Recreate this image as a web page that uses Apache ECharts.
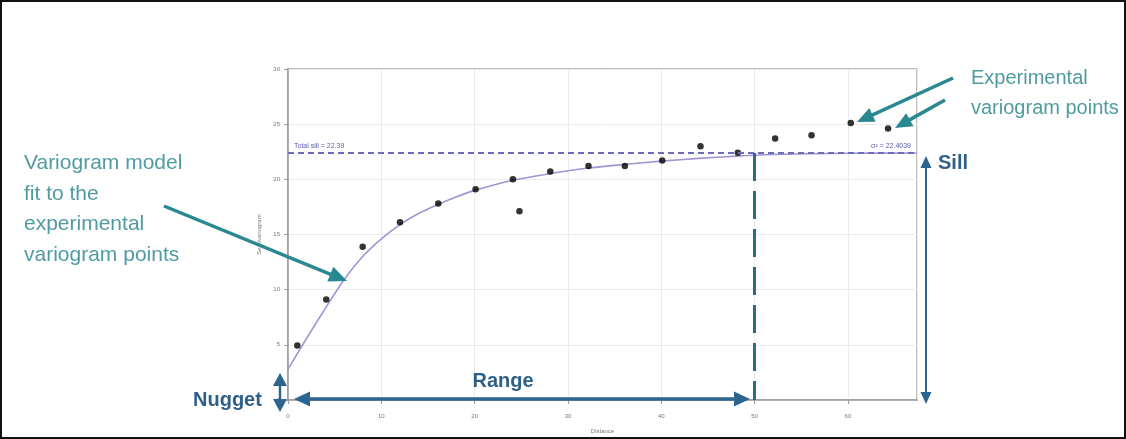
<!DOCTYPE html>
<html>
<head>
<meta charset="utf-8">
<script src="https://cdn.jsdelivr.net/npm/echarts@6/dist/echarts.min.js"></script>
<style>
  html, body { margin: 0; padding: 0; background: #fff; }
  #chart { width: 1126px; height: 439px; }
</style>
</head>
<body>
<div id="chart"></div>
<script>
// Experimental semivariogram: lag distance and semivariance
const lagDistance = [1.0, 4.1, 8.0, 12.0, 16.1, 20.1, 24.1, 24.8, 28.1, 32.2, 36.1, 40.1, 44.2, 48.2, 52.2, 56.1, 60.3, 64.3];
const semivariance = [4.95, 9.1, 13.9, 16.1, 17.8, 19.1, 20.0, 17.1, 20.7, 21.2, 21.2, 21.7, 23.0, 22.4, 23.7, 24.0, 25.1, 24.6];

// Fitted variogram model curve
const modelDistance = [0, 2, 4, 6, 8, 10, 12, 14, 16, 18, 20, 24, 28, 32, 36, 40, 44, 48, 52, 56, 60, 67.4];
const modelGamma = [2.8, 5.6, 8.3, 10.9, 13.0, 14.6, 15.9, 16.9, 17.7, 18.4, 19.0, 19.9, 20.5, 21.0, 21.35, 21.65, 21.9, 22.1, 22.25, 22.32, 22.36, 22.39];

// Model parameters
const totalSill = 22.39;
const sigma2 = 22.4039;
const rangeDistance = 50;

const chart = echarts.init(document.getElementById('chart'), null, { renderer: 'canvas' });

const FONT = 'Liberation Sans, Arial, sans-serif';
const TEAL = '#2a8890';
const TEAL_TEXT = '#4f9ba1';
const NAVY = '#2c6590';

// Straight arrow with a filled head at (x2, y2), optionally at both ends
function arrow(x1, y1, x2, y2, o) {
  const a = Math.atan2(y2 - y1, x2 - x1);
  const cos = Math.cos(a), sin = Math.sin(a);
  const head = (tx, ty, dir) => {
    const bx = tx - dir * o.head * cos, by = ty - dir * o.head * sin;
    const px = -sin * o.headW / 2, py = cos * o.headW / 2;
    return { type: 'polygon', z: 100, shape: { points: [[tx, ty], [bx + px, by + py], [bx - px, by - py]] }, style: { fill: o.color } };
  };
  const s = o.both ? o.head * 0.8 : 0;
  const e = o.head * 0.8;
  const els = [{
    type: 'line', z: 100,
    shape: { x1: x1 + s * cos, y1: y1 + s * sin, x2: x2 - e * cos, y2: y2 - e * sin },
    style: { stroke: o.color, lineWidth: o.width }
  }, head(x2, y2, 1)];
  if (o.both) els.push(head(x1, y1, -1));
  return els;
}

const graphics = [
  // frame around the figure
  { type: 'rect', z: 100, shape: { x: 1, y: 1, width: 1124, height: 437 }, style: { fill: null, stroke: '#111', lineWidth: 2 } },
  // model-fit callout
  { type: 'text', z: 100, x: 24, y: 148, style: { text: 'Variogram model\nfit to the\nexperimental\nvariogram points', font: '21px ' + FONT, fill: TEAL_TEXT, lineHeight: 30.5, verticalAlign: 'top' } },
  ...arrow(164, 206, 347, 281, { color: TEAL, width: 3.5, head: 18, headW: 16 }),
  // experimental points callout
  { type: 'text', z: 100, x: 971, y: 63, style: { text: 'Experimental\nvariogram points', font: '20px ' + FONT, fill: TEAL_TEXT, lineHeight: 30, verticalAlign: 'top' } },
  ...arrow(953, 78, 857, 122, { color: TEAL, width: 3.5, head: 17, headW: 15 }),
  ...arrow(945, 100, 895, 128, { color: TEAL, width: 3.5, head: 17, headW: 15 }),
  // sill
  { type: 'text', z: 100, x: 938, y: 163, style: { text: 'Sill', font: 'bold 20px ' + FONT, fill: '#2d5f88', verticalAlign: 'middle' } },
  ...arrow(926, 404, 926, 156, { color: NAVY, width: 2, head: 12, headW: 11, both: true }),
  // nugget
  { type: 'text', z: 100, x: 193, y: 400, style: { text: 'Nugget', font: 'bold 20px ' + FONT, fill: '#2d5f88', verticalAlign: 'middle' } },
  ...arrow(280, 412, 280, 373, { color: NAVY, width: 2.5, head: 13, headW: 14, both: true }),
  // range
  { type: 'text', z: 100, x: 503, y: 381, style: { text: 'Range', font: 'bold 20px ' + FONT, fill: '#2d5f88', align: 'center', verticalAlign: 'middle' } },
  ...arrow(294, 399, 750, 399, { color: NAVY, width: 3.5, head: 16, headW: 15, both: true })
];

chart.setOption({
  backgroundColor: '#fff',
  animation: false,
  grid: { left: 288, right: 209, top: 69, bottom: 35, show: true, borderColor: '#a8a8a8', borderWidth: 1.5, containLabel: false },
  xAxis: {
    type: 'value', min: 0, max: 67.4, interval: 10,
    name: 'Distance', nameLocation: 'middle', nameGap: 28,
    nameTextStyle: { fontSize: 6, color: '#777', fontFamily: FONT },
    axisLine: { show: true, lineStyle: { color: '#9a9a9a', width: 1.5 } },
    axisTick: { show: true, length: 4, lineStyle: { color: '#9a9a9a' } },
    axisLabel: { fontSize: 6, color: '#777', margin: 13, fontFamily: FONT, showMaxLabel: false },
    splitLine: { show: true, lineStyle: { color: '#ebebeb', width: 1 } }
  },
  yAxis: {
    type: 'value', min: 0, max: 30, interval: 5,
    name: 'Semivariogram', nameLocation: 'middle', nameGap: 20, nameRotate: 90,
    nameTextStyle: { fontSize: 6, color: '#777', fontFamily: FONT },
    axisLine: { show: true, lineStyle: { color: '#9a9a9a', width: 1.5 } },
    axisTick: { show: true, length: 4, lineStyle: { color: '#9a9a9a' } },
    axisLabel: { fontSize: 6, color: '#777', margin: 8, fontFamily: FONT },
    splitLine: { show: true, lineStyle: { color: '#ebebeb', width: 1 } }
  },
  series: [
    {
      name: 'Model', type: 'line', smooth: 0.3, showSymbol: false, z: 3,
      data: modelDistance.map((d, i) => [d, modelGamma[i]]),
      lineStyle: { color: '#9f95d4', width: 1.6 },
      markLine: {
        silent: true, symbol: 'none',
        lineStyle: { color: '#6f6bbb', type: [6, 4], width: 1.8 },
        label: { show: true, position: 'insideStartTop', formatter: 'Total sill = ' + totalSill, fontSize: 7, color: '#5b5bb0', fontFamily: FONT, distance: [6, 3] },
        data: [{ yAxis: totalSill }]
      }
    },
    {
      name: 'Experimental', type: 'scatter', symbolSize: 6.5, z: 4,
      data: lagDistance.map((d, i) => [d, semivariance[i]]),
      itemStyle: { color: '#000' },
      markLine: {
        silent: true, symbol: 'none', label: { show: false },
        lineStyle: { color: '#2a6a8e', type: [28, 10], width: 3 },
        data: [[{ coord: [rangeDistance, totalSill] }, { coord: [rangeDistance, 0] }]]
      }
    },
    {
      // fitted variance label carried on the sill level
      name: 'Variance', type: 'line', data: [], z: 2,
      markLine: {
        silent: true, symbol: 'none',
        lineStyle: { color: 'rgba(0,0,0,0)', width: 1 },
        label: { show: true, position: 'insideEndTop', formatter: 'σ² = ' + sigma2, fontSize: 7, color: '#5b5bb0', fontFamily: FONT, distance: [6, 3] },
        data: [{ yAxis: totalSill }]
      }
    }
  ],
  graphic: graphics
});
</script>
</body>
</html>
